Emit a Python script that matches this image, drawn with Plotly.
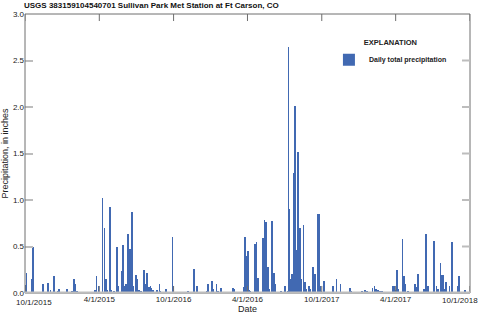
import plotly.graph_objects as go

# Daily total precipitation (inches), nonzero days
dates = [
    "2015-10-01", "2015-10-03", "2015-10-05", "2015-10-19", "2015-10-20", "2015-10-22",
    "2015-11-14", "2015-11-27", "2015-12-03", "2015-12-11", "2015-12-20", "2015-12-23",
    "2015-12-30", "2016-01-13", "2016-01-25", "2016-01-30", "2016-02-02", "2016-02-06",
    "2016-03-21", "2016-03-25", "2016-03-30", "2016-04-09", "2016-04-14", "2016-04-17",
    "2016-04-20", "2016-04-26", "2016-04-27", "2016-05-01", "2016-05-07", "2016-05-15",
    "2016-05-17", "2016-05-26", "2016-05-29", "2016-06-02", "2016-06-06", "2016-06-11",
    "2016-06-15", "2016-06-18", "2016-06-21", "2016-06-24", "2016-06-30", "2016-07-04",
    "2016-07-08", "2016-07-13", "2016-07-20", "2016-07-23", "2016-07-27", "2016-08-01",
    "2016-08-05", "2016-08-08", "2016-08-11", "2016-08-21", "2016-08-27", "2016-08-30",
    "2016-09-12", "2016-09-28", "2016-09-30", "2016-11-05", "2016-11-20", "2016-11-28",
    "2016-12-21", "2016-12-24", "2017-01-04", "2017-01-07", "2017-01-15", "2017-01-18",
    "2017-01-25", "2017-02-02", "2017-02-24", "2017-02-28", "2017-03-22", "2017-03-26",
    "2017-03-29", "2017-03-31", "2017-04-02", "2017-04-05", "2017-04-08", "2017-04-19",
    "2017-04-23", "2017-04-27", "2017-05-09", "2017-05-13", "2017-05-17", "2017-05-21",
    "2017-05-24", "2017-05-31", "2017-06-05", "2017-06-07", "2017-06-23", "2017-07-02",
    "2017-07-09", "2017-07-11", "2017-07-13", "2017-07-16", "2017-07-20", "2017-07-24",
    "2017-07-25", "2017-07-27", "2017-07-29", "2017-08-02", "2017-08-04", "2017-08-07",
    "2017-08-09", "2017-08-12", "2017-08-17", "2017-08-21", "2017-08-24", "2017-08-30",
    "2017-09-03", "2017-09-09", "2017-09-15", "2017-09-22", "2017-09-25", "2017-09-28",
    "2017-09-30", "2017-10-07", "2017-10-29", "2017-11-06", "2017-11-16", "2017-12-09",
    "2017-12-12", "2018-01-08", "2018-01-16", "2018-01-20", "2018-02-03", "2018-02-08",
    "2018-02-11", "2018-02-17", "2018-02-22", "2018-02-26", "2018-03-25", "2018-03-29",
    "2018-04-01", "2018-04-05", "2018-04-07", "2018-04-18", "2018-04-21", "2018-04-24",
    "2018-05-02", "2018-05-18", "2018-05-21", "2018-05-26", "2018-06-10", "2018-06-15",
    "2018-06-20", "2018-07-04", "2018-07-11", "2018-07-14", "2018-07-20", "2018-07-24",
    "2018-07-27", "2018-07-30", "2018-08-03", "2018-08-12", "2018-08-17", "2018-08-19",
    "2018-09-01", "2018-09-04", "2018-09-18",
]
precip = [
    0.09, 0.05, 0.22, 0.15, 0.50, 0.02,
    0.10, 0.11, 0.03, 0.18, 0.02, 0.04,
    0.01, 0.04, 0.02, 0.15, 0.10, 0.02,
    0.03, 0.18, 0.07, 1.02, 0.70, 0.15,
    0.03, 0.28, 0.92, 0.03, 0.02, 0.50,
    0.07, 0.24, 0.52, 0.07, 0.10, 0.63,
    0.47, 0.25, 0.87, 0.08, 0.19, 0.15,
    0.03, 0.02, 0.25, 0.10, 0.21, 0.06,
    0.07, 0.05, 0.03, 0.03, 0.10, 0.02,
    0.04, 0.60, 0.08, 0.02, 0.26, 0.07,
    0.02, 0.10, 0.13, 0.04, 0.10, 0.02,
    0.05, 0.01, 0.05, 0.04, 0.06, 0.60,
    0.40, 0.08, 0.45, 0.03, 0.02, 0.53,
    0.55, 0.16, 0.59, 0.79, 0.76, 0.28,
    0.04, 0.77, 0.22, 0.10, 0.02, 0.08,
    0.02, 2.65, 0.90, 0.15, 0.20, 0.41,
    1.29, 2.01, 0.46, 0.65, 1.52, 0.55,
    0.70, 0.15, 0.73, 0.12, 0.04, 0.07,
    0.04, 0.28, 0.20, 0.85, 0.85, 0.07,
    0.02, 0.13, 0.08, 0.15, 0.10, 0.05,
    0.02, 0.02, 0.03, 0.02, 0.05, 0.08,
    0.04, 0.03, 0.02, 0.02, 0.07, 0.07,
    0.03, 0.25, 0.04, 0.58, 0.18, 0.10,
    0.02, 0.10, 0.06, 0.20, 0.04, 0.63,
    0.07, 0.56, 0.07, 0.04, 0.32, 0.19,
    0.19, 0.04, 0.12, 0.07, 0.55, 0.25,
    0.07, 0.18, 0.03,
]

tick_vals = ["2015-10-01", "2016-04-01", "2016-10-01", "2017-04-01",
             "2017-10-01", "2018-04-01", "2018-10-01"]
tick_text = ["10/1/2015", "4/1/2015", "10/1/2016", "4/1/2016",
             "10/1/2017", "4/1/2017", "10/1/2018"]
y_ticks = [0, 0.5, 1.0, 1.5, 2.0, 2.5, 3.0]
x_range = ["2015-10-01", "2018-10-01 02:00"]

FONT = "Liberation Sans, Arial, sans-serif"
BLUE = "#4169b2"
TXT = "#222222"
FRAME = "#6e6e6e"
LIGHT = "#bdbdbd"
PLOT_W, PLOT_H = 445, 278  # plot area size in px (for tick lengths)

fig = go.Figure()
fig.add_trace(go.Bar(
    x=dates, y=precip, name="<b>Daily total precipitation</b>",
    marker=dict(color=BLUE, line=dict(width=0)),
    width=1.6 * 86400000,
))

shapes = [dict(type="rect", xref="paper", yref="paper", x0=0, x1=1, y0=0, y1=1,
               line=dict(color=FRAME, width=1), layer="above")]
# top and bottom inward date ticks
for tv in tick_vals:
    shapes.append(dict(type="line", xref="x", yref="paper", x0=tv, x1=tv,
                       y0=1, y1=1 - 7 / PLOT_H, line=dict(color=FRAME, width=1), layer="above"))
    shapes.append(dict(type="line", xref="x", yref="paper", x0=tv, x1=tv,
                       y0=0, y1=7 / PLOT_H, line=dict(color=FRAME, width=1), layer="above"))
# right-side inward value ticks
for yv in y_ticks[1:-1]:
    shapes.append(dict(type="line", xref="paper", yref="y", x0=1, x1=1 - 8 / PLOT_W,
                       y0=yv, y1=yv, line=dict(color=LIGHT, width=2), layer="above"))
# light grey zero baseline
shapes.append(dict(type="line", xref="paper", yref="y", x0=0, x1=1, y0=0, y1=0,
                   line=dict(color=LIGHT, width=3), layer="above"))

fig.update_layout(
    width=482, height=317,
    margin=dict(l=25, r=12, t=14, b=24),
    paper_bgcolor="white", plot_bgcolor="white",
    font=dict(family=FONT, size=8, color=TXT),
    bargap=0,
    showlegend=True,
    legend=dict(
        x=0.683, y=0.923, xanchor="left", yanchor="top",
        bgcolor="rgba(0,0,0,0)",
        title=dict(text="<b>EXPLANATION</b>", side="top center",
                   font=dict(size=7.5, family=FONT, color=TXT)),
        font=dict(size=7, family=FONT, color=TXT),
    ),
    xaxis=dict(
        type="date", range=x_range,
        tickmode="array", tickvals=tick_vals[1:-1], ticktext=tick_text[1:-1],
        ticks="", showline=False,
        showgrid=False, zeroline=False, automargin=False,
        tickfont=dict(size=8, family=FONT, color=TXT),
        title=dict(text="Date", font=dict(size=9, family=FONT, color=TXT), standoff=2),
    ),
    yaxis=dict(
        range=[0, 3.0],
        tickmode="array", tickvals=y_ticks, tickformat=".1f",
        ticks="inside", ticklen=8, tickwidth=2, tickcolor=LIGHT,
        showline=False,
        showgrid=False, zeroline=False, automargin=False,
        tickfont=dict(size=8, family=FONT, color=TXT),
        title=dict(text="Precipitation, in inches",
                   font=dict(size=9, family=FONT, color=TXT), standoff=2),
    ),
    shapes=shapes,
    annotations=[
        dict(
            text="<b>USGS 383159104540701 Sullivan Park Met Station at Ft Carson, CO</b>",
            xref="paper", yref="paper", x=-0.007, y=1.032,
            xanchor="left", yanchor="middle", showarrow=False,
            font=dict(size=8, family=FONT, color="#111"),
        ),
        # end date labels, nudged inward like the reference
        dict(
            text=tick_text[0], xref="x", yref="paper", x=tick_vals[0], y=0,
            xanchor="left", yanchor="top", xshift=-11, yshift=-3, showarrow=False,
            font=dict(size=8, family=FONT, color=TXT),
        ),
        dict(
            text=tick_text[-1], xref="x", yref="paper", x=tick_vals[-1], y=0,
            xanchor="right", yanchor="top", xshift=10, yshift=-1, showarrow=False,
            font=dict(size=8, family=FONT, color=TXT),
        ),
    ],
)

fig.write_html("out.html")
